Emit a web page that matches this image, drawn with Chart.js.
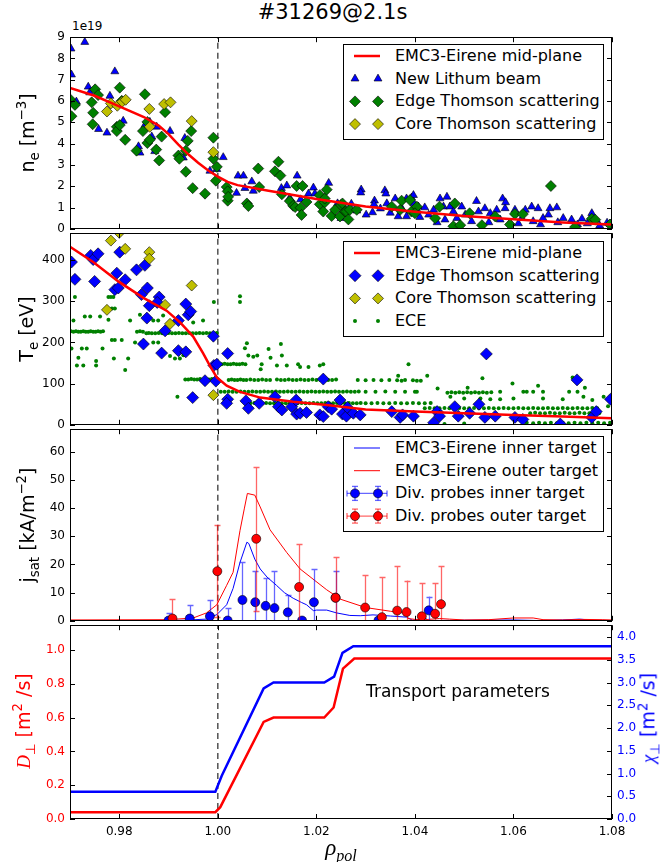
<!DOCTYPE html>
<html>
<head>
<meta charset="utf-8">
<script src="https://cdn.jsdelivr.net/npm/chart.js@4.4.0/dist/chart.umd.min.js"></script>
<style>
  body { margin: 0; width: 665px; height: 862px; position: relative; background: #fff; overflow: hidden;
         font-family: "DejaVu Sans", sans-serif; color: #000; }
  canvas { position: absolute; left: 0; }
  .txt { position: absolute; white-space: nowrap; }
  .rot { position: absolute; white-space: nowrap; font-size: 19px; transform: translate(-50%, -50%) rotate(-90deg); }
  .rot sub, .rot sup { font-size: 70%; }
  .math { font-family: "Liberation Serif", serif; font-style: italic; }
  .leg { position: absolute; width: 261px; height: 96px; box-sizing: border-box; border: 1px solid #000; background: #fff; }
  .leg svg { position: absolute; left: 0; top: 0; }
  .leg .lt { position: absolute; left: 51px; font-size: 16px; line-height: 20px; }
</style>
</head>
<body>
<div class="txt" style="left:0;width:665px;text-align:center;top:0px;font-size:21px">#31269@2.1s</div>
<div class="txt" style="left:72px;top:19px;font-size:12px">1e19</div>

<canvas id="cNe" width="665" height="216" style="top:25px"></canvas>
<canvas id="cTe" width="665" height="216" style="top:221px"></canvas>
<canvas id="cJ" width="665" height="216" style="top:417px"></canvas>
<canvas id="cD" width="665" height="230" style="top:613px"></canvas>

<div class="rot" style="left:28px;top:133px">n<sub>e</sub> [m<sup>−3</sup>]</div>
<div class="rot" style="left:28px;top:329px">T<sub>e</sub> [eV]</div>
<div class="rot" style="left:28px;top:525px">j<sub>sat</sub> [kA/m<sup>−2</sup>]</div>
<div class="rot" style="left:24px;top:721px;color:#f00"><span class="math">D</span><sub>⊥</sub> [m<sup>2</sup> /s]</div>
<div class="rot" style="left:649px;top:718px;color:#00f"><span class="math">χ</span><sub>⊥</sub> [m<sup>2</sup> /s]</div>
<div class="txt math" style="left:341px;top:850px;font-size:23px;transform:translate(-50%,-50%)">ρ<sub style="font-size:70%">pol</sub></div>
<div class="txt" style="left:366px;top:681px;font-size:17px">Transport parameters</div>

<script>
// ---- data ----
const xTicks = [0.98, 1.00, 1.02, 1.04, 1.06, 1.08];
const neTicks = [0, 1, 2, 3, 4, 5, 6, 7, 8, 9];
const teTicks = [0, 100, 200, 300, 400];
const jTicks = [0, 10, 20, 30, 40, 50, 60];
const dTicks = [0, 0.2, 0.4, 0.6, 0.8, 1.0];
const chiTicks = [0, 0.5, 1.0, 1.5, 2.0, 2.5, 3.0, 3.5, 4.0];

// panel 1: density (1e19 m^-3)
const neEmc3 = [[0.970,6.62],[0.975,6.25],[0.980,5.75],[0.985,5.25],[0.988,4.85],[0.990,4.45],[0.992,3.95],
  [0.994,3.5],[0.996,3.1],[0.998,2.75],[1.000,2.45],[1.002,2.2],[1.004,2.05],[1.006,1.97],[1.010,1.8],
  [1.015,1.6],[1.020,1.4],[1.025,1.22],[1.030,1.05],[1.040,0.8],[1.050,0.6],[1.060,0.45],[1.070,0.3],[1.080,0.2]];
const neLiBeam = [[0.9702,8.46],[0.9730,8.77],[0.9703,7.24],[0.9713,5.97],[0.9737,6.67],[0.9740,6.40],[0.9758,4.68],
  [0.9775,4.51],[0.9781,6.24],[0.9791,7.39],[0.9808,5.07],[0.9839,3.87],[0.9842,3.57],[0.9852,4.87],[0.9862,5.02],
  [0.9876,4.79],[0.9866,4.33],[0.9872,3.64],[0.9903,4.59],[0.9930,3.34],[0.9933,4.26],[0.9984,2.72],[0.9998,2.80],
  [1.0011,3.36],[1.0038,1.68],[1.0041,2.49],[1.0052,2.49],[1.0055,1.91],[1.0069,2.22],[1.0072,1.78],[1.0129,1.91],
  [1.0140,2.03],[1.0146,1.45],[1.0161,2.49],[1.0168,1.38],[1.0184,1.65],[1.0194,1.93],[1.0197,1.65],[1.0225,2.15],
  [1.0243,1.19],[1.0271,1.17],[1.0282,0.85],[1.0291,1.84],[1.0301,0.66],[1.0314,0.77],[1.0318,1.32],[1.0339,1.80],
  [1.0343,1.19],[1.0360,1.42],[1.0366,0.58],[1.0383,0.58],[1.0383,1.42],[1.0393,1.46],[1.0398,1.19],[1.0403,0.96],
  [1.0397,1.58],[1.0407,1.04],[1.0420,1.00],[1.0428,0.66],[1.0438,0.89],[1.0451,1.42],[1.0465,1.50],[1.0458,1.04],
  [1.0471,1.04],[1.0478,0.81],[1.0461,0.43],[1.0495,1.04],[1.0502,0.66],[1.0525,1.30],[1.0529,0.81],[1.0542,0.96],
  [1.0553,0.73],[1.0566,0.89],[1.0578,1.42],[1.0583,0.96],[1.0573,0.43],[1.0603,0.89],[1.0593,0.28],[1.0617,0.50],
  [1.0624,0.89],[1.0637,1.04],[1.0650,0.96],[1.0640,0.35],[1.0660,0.50],[1.0671,0.66],[1.0674,0.96],[1.0688,1.00],
  [1.0701,0.50],[1.0718,0.43],[1.0739,0.47],[1.0759,0.73],[1.0766,0.43],[1.0790,0.28],[1.0796,0.23],[1.0330,0.95],
  [1.0350,0.75],[1.0375,0.90],[1.0410,0.55],[1.0445,0.30],[1.0485,0.50],[1.0515,0.35],[1.0550,0.30],[1.0610,0.25],
  [1.0655,0.20],[1.0690,0.30],[1.0730,0.20],[1.0750,0.25],[1.0775,0.15],[1.0290,1.70],[1.0341,1.65],[1.0317,1.15],
  [1.0584,1.24],[1.0250,0.50]];
const neEdgeTs = [[0.9700,6.09],[0.9703,5.29],[0.9710,5.82],[0.9744,5.94],[0.9747,5.45],[0.9746,4.91],[0.9751,6.55],
  [0.9757,6.28],[0.9795,4.79],[0.9795,4.59],[0.9801,4.87],[0.9801,6.63],[0.9805,6.01],[0.9812,4.18],[0.9835,3.67],
  [0.9848,4.59],[0.9852,6.32],[0.9857,5.02],[0.9857,4.03],[0.9862,4.18],[0.9875,3.72],[0.9881,3.21],[0.9886,4.33],
  [0.9893,5.48],[0.9920,3.44],[0.9922,3.29],[0.9935,3.67],[0.9939,4.13],[0.9935,2.68],[0.9946,4.59],[0.9949,1.91],
  [0.9974,1.65],[0.9991,4.28],[0.9991,3.29],[0.9998,2.91],[0.9996,2.26],[1.0018,1.96],[1.0020,1.76],[1.0020,1.32],
  [1.0021,1.50],[1.0059,1.19],[1.0062,1.07],[1.0082,2.83],[1.0084,1.96],[1.0116,2.70],[1.0123,3.15],[1.0127,2.50],
  [1.0130,1.62],[1.0146,1.30],[1.0153,1.08],[1.0157,1.02],[1.0160,2.01],[1.0168,0.99],[1.0170,0.65],[1.0172,2.01],
  [1.0180,1.26],[1.0207,1.58],[1.0207,1.15],[1.0214,0.81],[1.0217,1.24],[1.0217,1.42],[1.0221,1.84],[1.0231,0.60],
  [1.0238,0.89],[1.0248,0.58],[1.0250,1.12],[1.0253,1.19],[1.0258,0.81],[1.0261,0.81],[1.0265,0.44],[1.0268,0.89],
  [1.0282,0.89],[1.0353,1.04],[1.0373,1.32],[1.0370,0.89],[1.0390,1.35],[1.0393,0.81],[1.0404,1.04],[1.0400,0.73],
  [1.0441,0.50],[1.0450,1.04],[1.0481,1.19],[1.0478,0.12],[1.0492,0.17],[1.0511,0.73],[1.0536,0.17],[1.0563,0.58],
  [1.0593,0.20],[1.0603,0.70],[1.0619,0.69],[1.0676,2.01],[1.0725,0.08],[1.0759,0.47],[1.0766,0.43],[1.0796,0.20]];
const neCoreTs = [[0.9775,5.51],[0.9783,5.89],[0.9796,5.78],[0.9806,5.97],[0.9813,6.06],[0.9861,5.63],[0.9862,4.79],
  [0.9891,5.86],[0.9904,5.94],[0.9947,5.06],[0.9991,3.60]];

// panel 2: electron temperature (eV)
const teEmc3 = [[0.970,432],[0.9747,395],[0.9798,348],[0.9849,308],[0.9896,277],[0.9923,249],[0.995,214],
  [0.997,174],[0.9984,143],[0.9998,115],[1.0018,95],[1.0045,80],[1.0086,66],[1.0153,56],[1.0221,48],[1.030,37],
  [1.040,32],[1.050,28],[1.060,24],[1.070,20],[1.080,16]];
const teEdgeTs = [[0.9703,395],[0.9710,353],[0.9742,411],[0.9747,401],[0.9757,415],[0.9750,348],[0.9795,368],
  [0.9801,419],[0.9791,328],[0.9798,332],[0.9812,352],[0.9835,376],[0.9852,387],[0.9845,316],[0.9857,332],
  [0.9861,289],[0.9856,259],[0.9881,310],[0.9877,297],[0.9849,196],[0.9886,174],[0.9893,228],[0.9920,253],
  [0.9935,293],[0.9940,267],[0.9945,275],[0.9920,180],[0.9935,177],[0.9949,66],[0.9974,107],[0.9991,215],
  [0.9992,144],[0.9998,147],[0.9996,106],[1.0020,173],[1.0020,62],[1.0018,52],[1.0057,58],[1.0062,40],
  [1.0084,52],[1.0116,68],[1.0123,44],[1.0130,36],[1.0150,44],[1.0160,26],[1.0167,28],[1.0180,30],[1.0159,60],
  [1.0207,24],[1.0214,111],[1.0214,20],[1.0224,44],[1.0231,38],[1.0248,60],[1.0253,26],[1.0261,21],[1.0263,42],
  [1.0275,28],[1.0289,24],[1.0353,32],[1.0370,18],[1.0375,24],[1.0397,21],[1.0438,5],[1.0445,32],[1.0450,21],
  [1.0481,44],[1.0488,21],[1.0511,28],[1.0530,50],[1.0542,18],[1.0545,172],[1.0563,21],[1.0603,18],[1.0619,13],
  [1.0695,2],[1.0729,109],[1.0759,18],[1.0768,32],[1.0797,62]];
const teCoreTs = [[0.9783,447],[0.9812,427],[0.9861,419],[0.9861,403],[0.9775,279],[0.9947,338],[0.9893,291],
  [0.9903,245],[0.9991,72],[0.9800,466]];
const teEce = [[0.9702,227],[0.9707,226],[0.9712,227],[0.9717,226],[0.9722,226],[0.9727,227],[0.9732,226],
  [0.9737,226],[0.9742,227],[0.9747,226],[0.9752,226],[0.9757,227],[0.9762,226],[0.9767,227],
  [0.9703,185],[0.9724,185],[0.9734,185],[0.9766,185],[0.9707,253],[0.9710,310],[0.9730,263],[0.9741,263],
  [0.9761,263],[0.9717,163],[0.9714,144],[0.9727,144],[0.9753,155],[0.9753,144],[0.9778,310],[0.9783,310],
  [0.9788,310],[0.9785,282],[0.9791,282],[0.9778,255],[0.9785,206],[0.9791,206],[0.9805,206],[0.9789,161],
  [0.9818,161],[0.9812,133],[0.9822,253],[0.9842,267],[0.9836,226],[0.9842,227],[0.9848,226],[0.9832,200],
  [0.9845,200],[0.9869,253],[0.9879,253],[0.9869,200],[0.9879,200],[0.9889,265],
  [0.9855,222],[0.9860,223],[0.9866,222],[0.9873,222],[0.9880,223],[0.9887,222],[0.9893,222],[0.9900,223],
  [0.9907,222],[0.9914,222],[0.9921,223],[0.9928,222],[0.9935,222],[0.9942,223],[0.9949,222],[0.9956,222],
  [0.9963,223],[0.9970,222],[0.9977,223],[0.9984,222],[0.9991,222],[0.9998,223],
  [0.9903,167],[0.9913,161],[0.9923,161],[0.9930,169],[0.9950,248],[0.9970,253],[0.9992,298],[0.9918,68],
  [0.9934,110],[0.9940,110],[0.9946,111],[0.9952,110],[0.9958,110],[0.9964,111],[0.9976,110],[0.9982,110],
  [0.9988,111],[0.9994,110],
  [1.0002,147],[1.0008,147],[1.0014,148],[1.0020,147],[1.0026,147],[1.0032,148],[1.0038,147],[1.0044,147],
  [1.0050,148],[1.0056,147],[1.0045,312],[1.0045,298],[1.0059,198],[1.0055,186],[1.0128,196],[1.0130,168],
  [1.0062,168],[1.0072,165],[1.0080,168],[1.0103,184],[1.0107,163],[1.0089,147],[1.0120,144],[1.0140,144],
  [1.0163,147],[1.0167,140],[1.0184,140],[1.0207,144],[1.0214,147],[1.0087,135],
  [1.0022,109],[1.0028,110],[1.0034,109],[1.0040,109],[1.0046,110],[1.0052,109],[1.0058,109],[1.0066,110],
  [1.0074,109],[1.0082,109],[1.0090,110],[1.0098,109],[1.0106,109],[1.0120,110],[1.0128,109],[1.0136,109],
  [1.0144,110],[1.0152,109],[1.0160,109],[1.0168,110],[1.0176,109],[1.0184,109],[1.0192,110],[1.0200,109],
  [1.0208,109],[1.0216,110],[1.0224,109],[1.0232,109],[1.0240,110],[1.0284,109],[1.0300,108],[1.0316,109],
  [1.0332,108],[1.0348,109],[1.0364,108],[1.0380,109],[1.0396,108],[1.0404,107],[1.0412,107],
  [1.0006,80],[1.0014,80],[1.0022,81],[1.0030,80],[1.0038,80],[1.0046,81],[1.0054,80],[1.0062,80],[1.0070,81],
  [1.0078,80],[1.0086,80],[1.0094,81],[1.0102,80],[1.0110,80],[1.0118,81],[1.0126,80],[1.0134,80],[1.0142,81],
  [1.0150,80],[1.0158,80],[1.0166,81],[1.0174,80],[1.0182,80],[1.0190,81],[1.0198,80],[1.0206,80],[1.0214,81],
  [1.0222,80],[1.0230,80],[1.0238,81],[1.0246,80],[1.0254,80],[1.0262,81],[1.0270,80],[1.0278,80],[1.0286,81],
  [1.0300,80],[1.0320,80],[1.0340,81],[1.0360,80],[1.0380,80],[1.0400,80],[1.0466,78],[1.0474,79],[1.0482,78],
  [1.0490,79],[1.0498,78],[1.0506,79],[1.0514,78],[1.0522,79],[1.0530,78],[1.0538,79],[1.0546,78],[1.0555,79],
  [1.0573,80],[1.0620,80],[1.0627,80],[1.0640,80],[1.0660,80],[1.0713,80],[1.0730,80],
  [1.0066,52],[1.0074,53],[1.0082,52],[1.0090,52],[1.0098,53],[1.0106,52],[1.0114,52],[1.0122,53],[1.0130,52],
  [1.0138,52],[1.0146,53],[1.0154,52],[1.0162,52],[1.0170,53],[1.0178,52],[1.0186,52],[1.0194,53],[1.0202,52],
  [1.0210,52],[1.0218,53],[1.0226,52],[1.0234,52],[1.0242,53],[1.0250,52],[1.0258,52],[1.0266,53],[1.0274,52],
  [1.0282,52],[1.0290,53],[1.0300,52],[1.0312,52],[1.0324,53],[1.0336,52],[1.0348,52],[1.0360,53],[1.0372,52],
  [1.0384,52],[1.0396,53],[1.0408,52],[1.0420,52],[1.0432,53],
  [1.0420,40],[1.0430,41],[1.0440,40],[1.0450,40],[1.0460,41],[1.0470,40],[1.0480,40],[1.0490,41],[1.0500,40],
  [1.0510,40],[1.0520,41],[1.0530,40],[1.0540,40],[1.0550,41],[1.0560,40],[1.0570,40],[1.0580,41],[1.0590,40],
  [1.0600,40],[1.0610,41],[1.0620,40],[1.0630,40],[1.0640,41],[1.0650,40],[1.0660,40],[1.0670,41],[1.0680,40],
  [1.0690,40],[1.0700,41],[1.0710,40],[1.0720,40],[1.0730,41],[1.0740,40],[1.0750,40],[1.0760,41],[1.0770,40],
  [1.0634,28],[1.0644,29],[1.0654,28],[1.0664,28],[1.0674,29],[1.0684,28],[1.0694,28],[1.0704,29],[1.0714,28],
  [1.0724,28],[1.0734,29],[1.0744,28],[1.0754,28],[1.0764,29],[1.0774,28],
  [1.0627,5],[1.0640,4],[1.0652,5],[1.0664,4],[1.0676,5],[1.0688,4],[1.0700,5],[1.0712,4],[1.0724,5],
  [1.0736,4],[1.0748,5],[1.0760,4],[1.0772,5],[1.0784,4],[1.0796,5],[1.0440,3],[1.0460,2],[1.0500,3],
  [1.0425,119],[1.0537,113],[1.0387,147],[1.0472,68],[1.0533,64],[1.0553,62],[1.0500,64],[1.0573,62],
  [1.0600,64],[1.0660,64],[1.0700,62],[1.0742,68],[1.0783,68],[1.0366,119],[1.0373,107],[1.0404,80],
  [1.0446,88],[1.0507,90],[1.0598,100],[1.0650,95],[1.0720,115],[1.0745,90],[1.0760,60],[1.0792,45]];

// panel 3: saturation current (kA/m^2)
const jInnerModel = [[0.970,0.1],[0.990,0.1],[0.993,0.2],[0.9977,0.6],[0.9998,2.2],[1.0018,5.7],[1.0031,11.5],
  [1.0045,20.7],[1.0059,27.9],[1.0063,27.4],[1.0075,21.9],[1.0086,18.4],[1.0100,15.5],[1.0119,12.6],
  [1.0135,10.0],[1.0153,8.0],[1.0170,6.5],[1.0180,5.7],[1.0194,3.6],[1.0200,3.8],[1.0221,3.8],[1.0241,2.8],
  [1.0268,1.9],[1.0289,1.8],[1.0315,2.1],[1.0350,1.7],[1.0383,1.3],[1.0395,0.2],[1.0410,0.3],[1.0417,1.4],
  [1.0428,0.1],[1.0500,0.2],[1.0600,0.3],[1.0650,0.1],[1.0700,0.3],[1.0734,0.6],[1.0760,0.2],[1.080,0.1]];
const jOuterModel = [[0.970,0.3],[0.990,0.4],[0.995,1.0],[0.9977,2.8],[0.9998,5.7],[1.0018,12.6],[1.0031,17.2],
  [1.0045,32],[1.0054,40],[1.0060,45.2],[1.0075,44.6],[1.0086,40.4],[1.0106,32.3],[1.0140,24.2],[1.0167,18.4],
  [1.0221,11.0],[1.0250,7.6],[1.0300,4.7],[1.0350,3.4],[1.0380,2.7],[1.0386,0.8],[1.0400,0.5],[1.0420,0.4],
  [1.0450,0.8],[1.0470,0.6],[1.0500,0.3],[1.0550,0.4],[1.0600,1.0],[1.0640,1.0],[1.0660,0.4],[1.0700,0.3],
  [1.0740,0.5],[1.0780,0.4],[1.080,0.3]];
const probeInnerX = [0.9900,0.9943,0.9984,1.0020,1.0050,1.0076,1.0097,1.0115,1.0142,1.0171,1.0195,1.0239,1.0326,1.0428];
const probeInnerY = [0.1,0.8,1.6,0.1,7.4,6.6,5.3,4.5,3.0,0.1,6.6,8.2,0.1,3.7];
const probeInnerErr = [2.7,4.9,5.8,4.4,13.3,10.9,9.9,13.3,6.1,0.5,11.8,9.6,0.5,4.9];
const probeOuterX = [0.9908,0.9999,1.0078,1.0165,1.0239,1.0299,1.0333,1.0364,1.0383,1.0414,1.0441,1.0453];
const probeOuterY = [0.8,17.6,29.1,12.0,8.2,4.7,1.3,3.6,3.1,1.6,2.5,5.9];
const probeOuterErr = [7.0,16.4,25.5,15.1,14.3,11.4,14.2,15.7,11.2,11.8,10.9,13.4];

// panel 4: transport coefficients
const dPerp = [[0.970,0.04],[0.9995,0.04],[1.0005,0.07],[1.0093,0.575],[1.0113,0.60],[1.0216,0.60],[1.0235,0.66],
  [1.0254,0.89],[1.0277,0.95],[1.080,0.95]];
const chiPerp = [[0.970,0.6],[0.9995,0.6],[1.0008,0.95],[1.0093,2.87],[1.0113,3.0],[1.0216,3.0],[1.0236,3.13],
  [1.0253,3.65],[1.0275,3.8],[1.080,3.8]];

// ---- helpers ----
const FONT = { family: 'DejaVu Sans', size: 12 };
const RED = '#ff0000', BLUE = '#0000ff', GREEN = '#008000', YELLOW = '#bfbf00';
const pts = arr => arr.map(([x, y]) => ({ x, y }));
const zip = (xs, ys) => xs.map((x, i) => ({ x, y: ys[i] }));

function sep(yMin, yMax, axis) {
  return { data: [{ x: 1.0, y: yMin }, { x: 1.0, y: yMax }], showLine: true, borderColor: '#444',
    borderWidth: 1.4, borderDash: [6, 4], pointRadius: 0, yAxisID: axis || 'y' };
}
function line(data, color, width, axis) {
  return { data: pts(data), showLine: true, borderColor: color, borderWidth: width, pointRadius: 0,
    tension: 0, yAxisID: axis || 'y' };
}
function markers(data, style, radius, color, edge) {
  return { data: pts(data), pointStyle: style, pointRadius: radius, backgroundColor: color,
    borderColor: edge || '#000', pointBorderWidth: edge === null ? 0 : 0.6 };
}

// box around the plot area plus inward ticks on every side
const frame = {
  id: 'frame',
  afterDatasetsDraw(chart) {
    const { ctx, chartArea: a, scales } = chart;
    ctx.save();
    ctx.strokeStyle = '#000';
    ctx.lineWidth = 1;
    ctx.strokeRect(Math.round(a.left) + 0.5, Math.round(a.top) + 0.5, Math.round(a.width) - 1, Math.round(a.height) - 1);
    ctx.beginPath();
    scales.x.ticks.forEach(t => {
      const p = Math.round(scales.x.getPixelForValue(t.value)) + 0.5;
      ctx.moveTo(p, a.bottom); ctx.lineTo(p, a.bottom - 5);
      ctx.moveTo(p, a.top); ctx.lineTo(p, a.top + 5);
    });
    const left = scales.y, right = scales.y2 || scales.y;
    left.ticks.forEach(t => {
      const p = Math.round(left.getPixelForValue(t.value)) + 0.5;
      ctx.moveTo(a.left, p); ctx.lineTo(a.left + 5, p);
    });
    right.ticks.forEach(t => {
      const p = Math.round(right.getPixelForValue(t.value)) + 0.5;
      ctx.moveTo(a.right, p); ctx.lineTo(a.right - 5, p);
    });
    ctx.stroke();
    ctx.restore();
  }
};

// vertical error bars, drawn just under their own markers
const errorBars = {
  id: 'errorBars',
  beforeDatasetDraw(chart, args) {
    const ds = chart.data.datasets[args.index];
    if (!ds.errors) return;
    const { ctx, chartArea: a } = chart;
    const ys = chart.scales.y;
    ctx.save();
    ctx.beginPath(); ctx.rect(a.left, a.top, a.width, a.height); ctx.clip();
    ctx.strokeStyle = ds.errorColor;
    ctx.lineWidth = 1.3;
    args.meta.data.forEach((el, i) => {
      const v = ds.data[i].y, e = ds.errors[i];
      const y1 = ys.getPixelForValue(v - e), y2 = ys.getPixelForValue(v + e);
      const px = Math.round(el.x) + 0.5;
      ctx.beginPath();
      ctx.moveTo(px, y1); ctx.lineTo(px, y2);
      ctx.moveTo(px - 3, Math.round(y2) + 0.5); ctx.lineTo(px + 3, Math.round(y2) + 0.5);
      ctx.moveTo(px - 3, Math.round(y1) + 0.5); ctx.lineTo(px + 3, Math.round(y1) + 0.5);
      ctx.stroke();
    });
    ctx.restore();
  }
};

function yAxis(min, max, ticks, fmt, pos, color, width) {
  return {
    type: 'linear', position: pos, min, max,
    afterBuildTicks: s => { s.ticks = ticks.map(v => ({ value: v })); },
    afterFit: s => { s.width = width; },
    ticks: { font: FONT, color: color || '#000', padding: 5, autoSkip: false, callback: fmt },
    grid: { display: false, drawTicks: false },
    border: { display: false }
  };
}

function panel(id, datasets, y, y2, last) {
  const scales = {
    x: {
      type: 'linear', min: 0.97, max: 1.08,
      afterBuildTicks: s => { s.ticks = xTicks.map(v => ({ value: v })); },
      afterFit: s => { s.height = last ? 24 : 0; },
      ticks: { display: !!last, font: FONT, color: '#000', padding: 6, maxRotation: 0, autoSkip: false,
        callback: v => v.toFixed(2) },
      grid: { display: false, drawTicks: false },
      border: { display: false }
    },
    y
  };
  if (y2) scales.y2 = y2;
  return new Chart(document.getElementById(id), {
    type: 'scatter',
    data: { datasets },
    options: {
      responsive: false, animation: false, events: [],
      layout: { padding: { top: 10, bottom: last ? 0 : 10, left: 0, right: y2 ? 0 : 53 } },
      plugins: { legend: { display: false }, tooltip: { enabled: false } },
      scales
    },
    plugins: [frame, errorBars]
  });
}

// ---- charts (first dataset is drawn on top) ----
const intFmt = v => String(v);
panel('cNe', [
  line(neEmc3, RED, 2.5),
  markers(neCoreTs, 'rectRot', 5.5, YELLOW),
  markers(neEdgeTs, 'rectRot', 5.5, GREEN),
  markers(neLiBeam, 'triangle', 4.6, BLUE),
  sep(0, 9)
], yAxis(0, 9, neTicks, intFmt, 'left', null, 70));

panel('cTe', [
  line(teEmc3, RED, 2.5),
  markers(teCoreTs, 'rectRot', 5.5, YELLOW),
  markers(teEdgeTs, 'rectRot', 6, BLUE),
  markers(teEce, 'circle', 2, GREEN, null),
  sep(0, 465)
], yAxis(0, 465, teTicks, intFmt, 'left', null, 70));

panel('cJ', [
  Object.assign(markers([], 'circle', 4.5, RED), { data: zip(probeOuterX, probeOuterY),
    errors: probeOuterErr, errorColor: 'rgba(255,0,0,0.6)' }),
  Object.assign(markers([], 'circle', 4.5, BLUE), { data: zip(probeInnerX, probeInnerY),
    errors: probeInnerErr, errorColor: 'rgba(0,0,255,0.6)' }),
  line(jOuterModel, RED, 1),
  line(jInnerModel, BLUE, 1),
  sep(0, 68)
], yAxis(0, 68, jTicks, intFmt, 'left', null, 70));

panel('cD', [
  line(dPerp, RED, 2.5, 'y'),
  line(chiPerp, BLUE, 2.5, 'y2'),
  sep(0, 1.147)
], yAxis(0, 1.147, dTicks, v => v.toFixed(1), 'left', RED, 70),
   yAxis(0, 4.26, chiTicks, v => v.toFixed(1), 'right', BLUE, 53), true);

// ---- legends ----
function marker(kind, cx, cy, r, fill) {
  if (kind === 'triangle') {
    const p = [[cx, cy - r], [cx + 0.866 * r, cy + 0.5 * r], [cx - 0.866 * r, cy + 0.5 * r]];
    return `<polygon points="${p.map(q => q.join(',')).join(' ')}" fill="${fill}" stroke="#000" stroke-width="0.6"/>`;
  }
  if (kind === 'diamond') {
    return `<polygon points="${cx},${cy - r} ${cx + r},${cy} ${cx},${cy + r} ${cx - r},${cy}" fill="${fill}" stroke="#000" stroke-width="0.6"/>`;
  }
  if (kind === 'dot') return `<circle cx="${cx}" cy="${cy}" r="${r}" fill="${fill}"/>`;
  return `<circle cx="${cx}" cy="${cy}" r="${r}" fill="${fill}" stroke="#000" stroke-width="0.6"/>`;
}

function legend(left, top, items) {
  const box = document.createElement('div');
  box.className = 'leg';
  box.style.left = left + 'px';
  box.style.top = top + 'px';
  let svg = '<svg width="50" height="94">';
  let text = '';
  items.forEach((it, i) => {
    const cy = 11 + i * 22.7;
    if (it.kind === 'line') {
      svg += `<line x1="10" y1="${cy}" x2="36" y2="${cy}" stroke="${it.color}" stroke-width="${it.width}"/>`;
    } else if (it.kind === 'err') {
      svg += `<g stroke="${it.bar}" stroke-width="1.3">
        <line x1="3" y1="${cy}" x2="43" y2="${cy}"/>
        <line x1="3" y1="${cy - 3}" x2="3" y2="${cy + 3}"/><line x1="43" y1="${cy - 3}" x2="43" y2="${cy + 3}"/>
        <line x1="11" y1="${cy - 7}" x2="11" y2="${cy + 7}"/><line x1="34" y1="${cy - 7}" x2="34" y2="${cy + 7}"/>
        <line x1="8" y1="${cy - 7}" x2="14" y2="${cy - 7}"/><line x1="31" y1="${cy - 7}" x2="37" y2="${cy - 7}"/>
        <line x1="8" y1="${cy + 7}" x2="14" y2="${cy + 7}"/><line x1="31" y1="${cy + 7}" x2="37" y2="${cy + 7}"/></g>`;
      svg += marker('circle', 11, cy, 4.5, it.color) + marker('circle', 34, cy, 4.5, it.color);
    } else {
      svg += marker(it.kind, 11, cy, it.r, it.color) + marker(it.kind, 34, cy, it.r, it.color);
    }
    text += `<div class="lt" style="top:${cy - 10}px">${it.label}</div>`;
  });
  box.innerHTML = svg + '</svg>' + text;
  document.body.appendChild(box);
}

legend(343, 44, [
  { kind: 'line', color: RED, width: 2.5, label: 'EMC3-Eirene mid-plane' },
  { kind: 'triangle', r: 4.6, color: BLUE, label: 'New Lithum beam' },
  { kind: 'diamond', r: 5.5, color: GREEN, label: 'Edge Thomson scattering' },
  { kind: 'diamond', r: 5.5, color: YELLOW, label: 'Core Thomson scattering' }
]);
legend(343, 241, [
  { kind: 'line', color: RED, width: 2.5, label: 'EMC3-Eirene mid-plane' },
  { kind: 'diamond', r: 6, color: BLUE, label: 'Edge Thomson scattering' },
  { kind: 'diamond', r: 5.5, color: YELLOW, label: 'Core Thomson scattering' },
  { kind: 'dot', r: 2, color: GREEN, label: 'ECE' }
]);
legend(343, 436, [
  { kind: 'line', color: BLUE, width: 1, label: 'EMC3-Eirene inner target' },
  { kind: 'line', color: RED, width: 1, label: 'EMC3-Eirene outer target' },
  { kind: 'err', color: BLUE, bar: 'rgba(0,0,255,0.6)', label: 'Div. probes inner target' },
  { kind: 'err', color: RED, bar: 'rgba(255,0,0,0.6)', label: 'Div. probes outer target' }
]);
</script>
</body>
</html>
